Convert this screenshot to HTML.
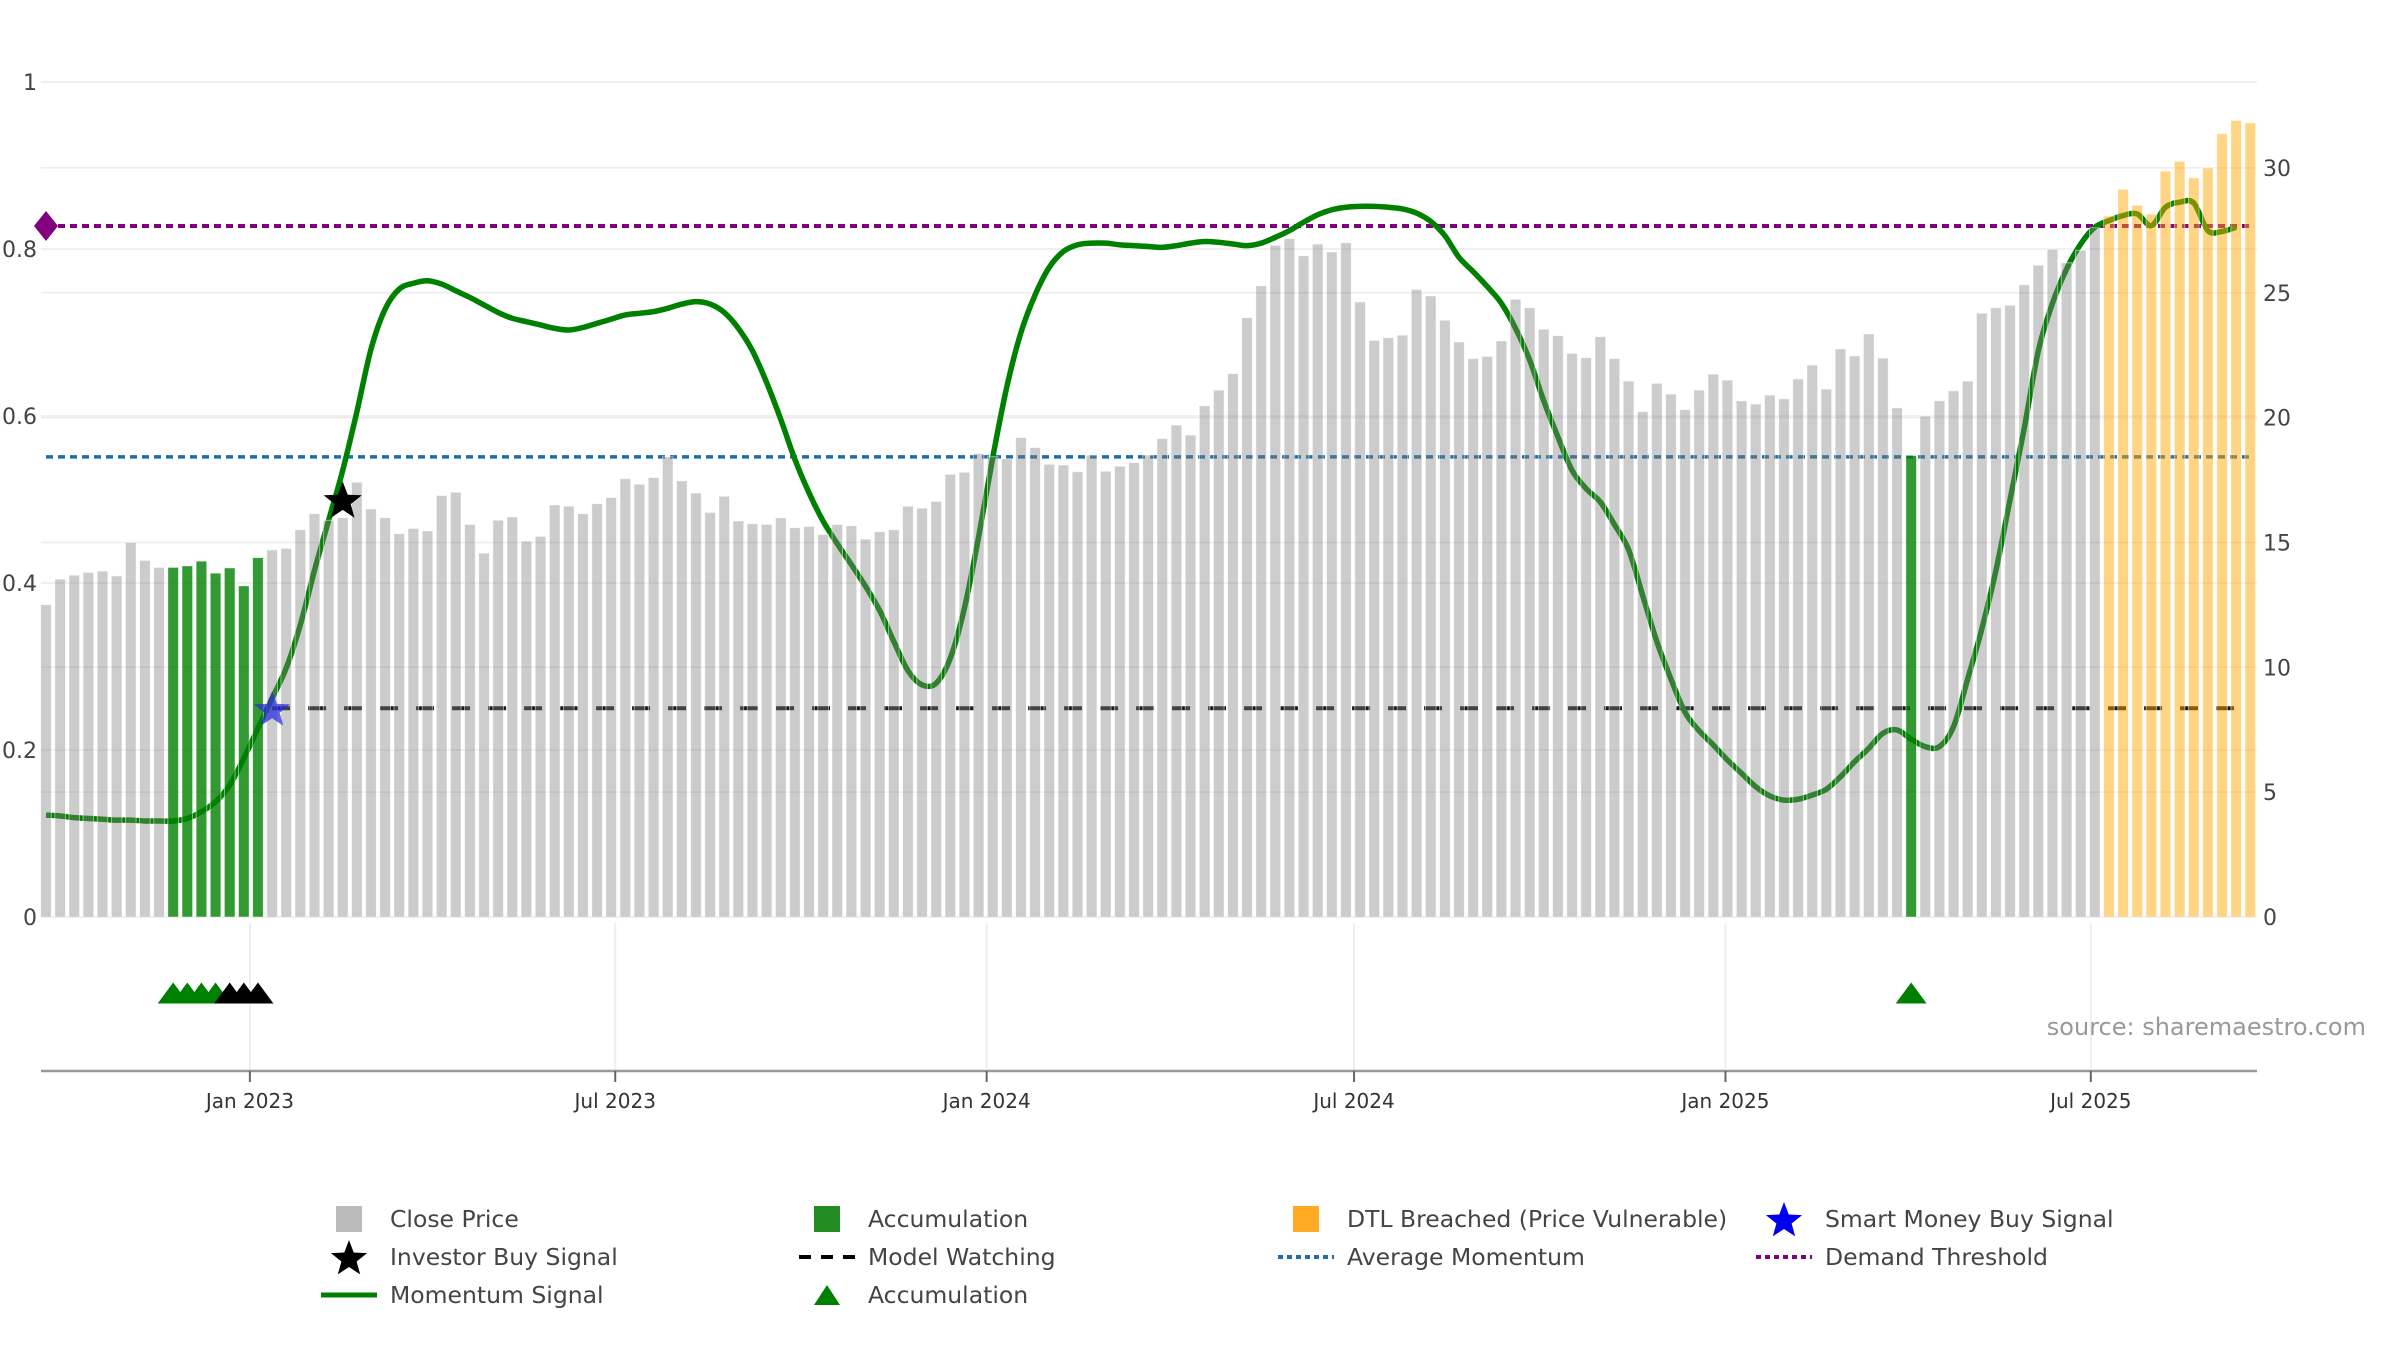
<!DOCTYPE html>
<html><head><meta charset="utf-8"><style>
html,body{margin:0;padding:0;background:#fff;}
svg{display:block;font-family:"DejaVu Sans","Liberation Sans",sans-serif;}
</style></head><body>
<svg id="chart" width="2400" height="1350" viewBox="0 0 2400 1350" xmlns="http://www.w3.org/2000/svg">
<g id="grid"></g>
<g id="lines"></g>
<g id="bars"></g>
<g id="marks"></g>
<g id="axes"></g>
<text x="2366" y="1035" text-anchor="end" font-size="24" fill="#999">source: sharemaestro.com</text>
<g id="legend"></g>
</svg>
<script>
const closePrice=[12.51,13.53,13.69,13.8,13.85,13.66,15.0,14.28,14.0,14.0,14.06,14.25,13.77,13.98,13.26,14.39,14.7,14.76,15.51,16.15,15.89,15.99,17.41,16.34,15.99,15.35,15.56,15.46,16.88,17.01,15.72,14.57,15.89,16.02,15.05,15.24,16.5,16.45,16.15,16.55,16.8,17.55,17.33,17.6,18.43,17.47,16.98,16.2,16.85,15.86,15.75,15.72,15.99,15.59,15.64,15.32,15.72,15.67,15.13,15.43,15.51,16.45,16.37,16.64,17.73,17.81,18.56,18.43,18.35,19.2,18.8,18.13,18.1,17.83,18.5,17.85,18.05,18.2,18.5,19.16,19.7,19.3,20.47,21.1,21.76,24.0,25.28,26.9,27.17,26.48,26.95,26.63,27.0,24.63,23.09,23.2,23.3,25.13,24.87,23.9,23.03,22.36,22.45,23.07,24.74,24.4,23.54,23.28,22.57,22.4,23.24,22.36,21.46,20.24,21.37,20.94,20.32,21.1,21.74,21.5,20.67,20.54,20.9,20.75,21.55,22.1,21.14,22.75,22.47,23.35,22.38,20.39,18.48,20.06,20.67,21.07,21.46,24.18,24.4,24.5,25.32,26.1,26.74,26.2,26.7,27.6,28.07,29.14,28.5,28.15,29.87,30.26,29.6,30.0,31.37,31.9,31.8];
const momentum=[.122,.121,.119,.118,.117,.116,.116,.115,.115,.115,.118,.126,.138,.158,.19,.226,.262,.298,.35,.415,.475,.535,.605,.68,.728,.752,.759,.762,.758,.75,.742,.733,.724,.717,.713,.709,.705,.703,.706,.711,.716,.721,.723,.725,.729,.734,.737,.734,.724,.705,.678,.64,.596,.548,.508,.474,.447,.422,.396,.367,.33,.295,.278,.28,.31,.37,.455,.55,.635,.7,.745,.778,.797,.805,.807,.807,.805,.804,.803,.802,.804,.807,.809,.808,.806,.804,.807,.814,.822,.832,.841,.847,.85,.851,.851,.85,.848,.843,.833,.816,.79,.773,.755,.735,.705,.667,.618,.575,.535,.513,.497,.47,.44,.385,.33,.285,.245,.223,.206,.188,.172,.156,.145,.14,.141,.146,.153,.168,.186,.202,.22,.224,.213,.204,.204,.228,.285,.345,.415,.5,.585,.678,.735,.776,.806,.826,.834,.84,.842,.828,.85,.856,.855,.822,.821,.826];
const accumBarIdx=[9,10,11,12,13,14,15,132];
const dtlStartIdx=146;
const triGreenIdx=[9,10,11,12,132];
const triBlackIdx=[13,14,15];
const smartMoneyIdx=[16];
const investorIdx=[21];
const investorVal=[0.5];
const smartVal=[0.25];
const demandThreshold=0.8275;
const avgMomentum=0.551;
const modelWatching=0.25;
const leftTicks=[0,0.2,0.4,0.6,0.8,1];
const leftTickLabels=["0","0.2","0.4","0.6","0.8","1"];
const rightTicks=[0,5,10,15,20,25,30];
const xTickDates=["2023-01-01","2023-07-01","2024-01-01","2024-07-01","2025-01-01","2025-07-01"];
const xTickLabels=["Jan 2023","Jul 2023","Jan 2024","Jul 2024","Jan 2025","Jul 2025"];
const startDate="2022-09-22";

const NS="http://www.w3.org/2000/svg";
const t0=Date.parse(startDate);
const DAY=86400000;
const X0=46, PXW=14.13, Y0=917, LS=835, RS=24.97;
function xDate(d){return X0+((Date.parse(d)-t0)/DAY/7)*PXW;}
function xIdx(i){return X0+i*PXW;}
function yL(v){return Y0-v*LS;}
function yR(v){return Y0-v*RS;}
function mk(tag,attrs,parent){const e=document.createElementNS(NS,tag);for(const k in attrs)e.setAttribute(k,attrs[k]);parent.appendChild(e);return e;}
const grid=document.getElementById('grid'),lines=document.getElementById('lines'),bars=document.getElementById('bars'),marks=document.getElementById('marks'),axes=document.getElementById('axes'),legend=document.getElementById('legend');
const PL=41,PR=2257;
leftTicks.forEach(v=>{const l=mk('line',{x1:PL,x2:PR,y1:yL(v),y2:yL(v),stroke:'#ececec','stroke-width':1.5},grid);});
rightTicks.forEach(v=>{const l=mk('line',{x1:PL,x2:PR,y1:yR(v),y2:yR(v),stroke:'#ececec','stroke-width':1.5},grid);});
xTickDates.forEach(d=>{const l=mk('line',{x1:xDate(d),x2:xDate(d),y1:923,y2:1071,stroke:'#eceff3','stroke-width':2},grid);});
const xEnd=xIdx(closePrice.length-1);
let e=mk('line',{x1:xIdx(0),x2:xEnd,y1:yL(demandThreshold),y2:yL(demandThreshold),stroke:'#800080','stroke-width':4,'stroke-dasharray':'7 5'},lines);

e=mk('line',{x1:xIdx(0),x2:xEnd,y1:yL(avgMomentum),y2:yL(avgMomentum),stroke:'#1f6fa6','stroke-width':3.5,'stroke-dasharray':'7 5'},lines);

e=mk('line',{x1:xIdx(smartMoneyIdx[0]),x2:xEnd-14,y1:yL(modelWatching),y2:yL(modelWatching),stroke:'#1a1a1a','stroke-width':4,'stroke-dasharray':'18 18'},lines);

const pts=momentum.map((v,i)=>[xIdx(i),yL(v)]);
let d='M'+pts[0][0]+','+pts[0][1];
for(let i=0;i<pts.length-1;i++){const p0=pts[Math.max(0,i-1)],p1=pts[i],p2=pts[i+1],p3=pts[Math.min(pts.length-1,i+2)];
d+=' C'+(p1[0]+(p2[0]-p0[0])/6)+','+(p1[1]+(p2[1]-p0[1])/6)+' '+(p2[0]-(p3[0]-p1[0])/6)+','+(p2[1]-(p3[1]-p1[1])/6)+' '+p2[0]+','+p2[1];}
e=mk('path',{d:d,fill:'none',stroke:'#008000','stroke-width':5.5,'stroke-linejoin':'round'},lines);

const BW=10.6;
closePrice.forEach((v,i)=>{let fill='rgba(128,128,128,0.4)',nm='close-price-bar';
if(accumBarIdx.indexOf(i)>=0){fill='rgba(0,128,0,0.8)';nm='accumulation-bar';}
else if(i>=dtlStartIdx){fill='rgba(255,165,0,0.48)';nm='dtl-breached-bar';}
const r=mk('rect',{x:xIdx(i)-BW/2,y:yR(v),width:BW,height:Y0-yR(v),fill:fill,stroke:'rgba(255,255,255,0.6)','stroke-width':0.8},bars);
});
function starPath(cx,cy,R){const r=R*0.42;let s='';for(let k=0;k<10;k++){const a=-Math.PI/2+k*Math.PI/5;const rr=k%2?r:R;s+=(k?'L':'M')+(cx+rr*Math.cos(a)).toFixed(1)+','+(cy+rr*Math.sin(a)).toFixed(1);}return s+'Z';}
function triPath(cx,cy,w,h){return 'M'+(cx-w/2)+','+(cy+h/2)+'L'+cx+','+(cy-h/2)+'L'+(cx+w/2)+','+(cy+h/2)+'Z';}
e=mk('path',{d:'M'+X0+','+(yL(demandThreshold)-15)+'L'+(X0+12)+','+yL(demandThreshold)+'L'+X0+','+(yL(demandThreshold)+15)+'L'+(X0-12)+','+yL(demandThreshold)+'Z',fill:'#800080'},marks);

smartMoneyIdx.forEach((i,k)=>{const s=mk('path',{d:starPath(xIdx(i),yL(smartVal[k])+2,19),fill:'rgba(40,40,220,0.72)'},marks);
});
investorIdx.forEach((i,k)=>{const s=mk('path',{d:starPath(xIdx(i),yL(investorVal[k])+2,20),fill:'#000'},marks);
});
triGreenIdx.forEach(i=>{const t=mk('path',{d:triPath(xIdx(i),993,31,21),fill:'#008000'},marks);
});
triBlackIdx.forEach(i=>{const t=mk('path',{d:triPath(xIdx(i),993,31,21),fill:'#000'},marks);
});
e=mk('line',{x1:PL,x2:PR,y1:1071,y2:1071,stroke:'#999','stroke-width':2.5},axes);

xTickDates.forEach((dt,k)=>{const x=xDate(dt);
const tk=mk('line',{x1:x,x2:x,y1:1071,y2:1082,stroke:'#666','stroke-width':2},axes);

const tx=mk('text',{x:x,y:1108,'text-anchor':'middle','font-size':20,fill:'#333'},axes);tx.textContent=xTickLabels[k];
});
leftTicks.forEach((v,k)=>{const tx=mk('text',{x:37,y:yL(v)+8,'text-anchor':'end','font-size':22,fill:'#444'},axes);tx.textContent=leftTickLabels[k];
});
rightTicks.forEach(v=>{const tx=mk('text',{x:2263,y:yR(v)+8,'font-size':22,fill:'#444'},axes);tx.textContent=String(v);
});
const rows=[1219,1257,1295];const icx=[349,827,1306,1784];const ttx=[390,868,1347,1825];
function ltext(c,r,s,nm){const t=mk('text',{x:ttx[c],y:rows[r]+8,'font-size':23.5,fill:'#444'},legend);t.textContent=s;}
e=mk('rect',{x:icx[0]-13,y:rows[0]-13,width:26,height:26,fill:'#bbb'},legend);
ltext(0,0,'Close Price','legend-close-price');
e=mk('path',{d:starPath(icx[0],rows[1]+2,19),fill:'#000'},legend);
ltext(0,1,'Investor Buy Signal','legend-investor-buy');
e=mk('line',{x1:icx[0]-28,x2:icx[0]+28,y1:rows[2],y2:rows[2],stroke:'#008000','stroke-width':5},legend);
ltext(0,2,'Momentum Signal','legend-momentum-signal');
e=mk('rect',{x:icx[1]-13,y:rows[0]-13,width:26,height:26,fill:'#228b22'},legend);
ltext(1,0,'Accumulation','legend-accumulation-bar');
e=mk('line',{x1:icx[1]-28,x2:icx[1]+28,y1:rows[1],y2:rows[1],stroke:'#000','stroke-width':4,'stroke-dasharray':'12 10'},legend);
ltext(1,1,'Model Watching','legend-model-watching');
e=mk('path',{d:triPath(icx[1],rows[2],26,20),fill:'#008000'},legend);
ltext(1,2,'Accumulation','legend-accumulation-triangle');
e=mk('rect',{x:icx[2]-13,y:rows[0]-13,width:26,height:26,fill:'#ffaa22'},legend);
ltext(2,0,'DTL Breached (Price Vulnerable)','legend-dtl-breached');
e=mk('line',{x1:icx[2]-28,x2:icx[2]+28,y1:rows[1],y2:rows[1],stroke:'#1f6fa6','stroke-width':4,'stroke-dasharray':'5 4'},legend);
ltext(2,1,'Average Momentum','legend-average-momentum');
e=mk('path',{d:starPath(icx[3],rows[0]+2,19),fill:'#0000ee'},legend);
ltext(3,0,'Smart Money Buy Signal','legend-smart-money');
e=mk('line',{x1:icx[3]-28,x2:icx[3]+28,y1:rows[1],y2:rows[1],stroke:'#800080','stroke-width':4,'stroke-dasharray':'5 4'},legend);
ltext(3,1,'Demand Threshold','legend-demand-threshold');
</script>
</body></html>
